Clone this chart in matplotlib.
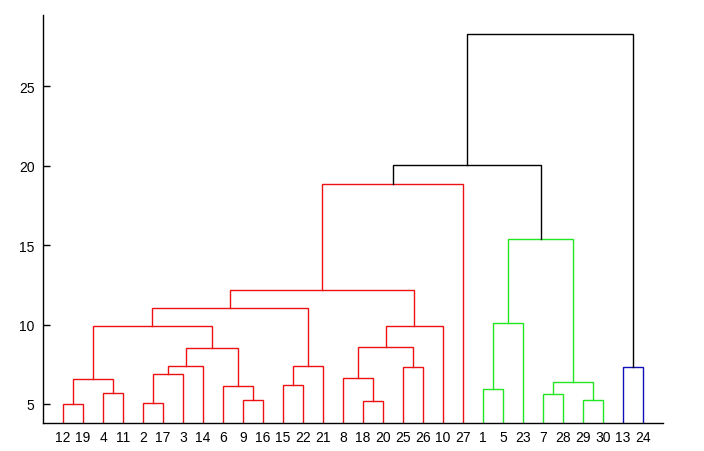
import matplotlib
matplotlib.use("Agg")
import matplotlib.pyplot as plt

# leaf order along the x axis
leaf_order = [12, 19, 4, 11, 2, 17, 3, 14, 6, 9, 16, 15, 22, 21, 8, 18, 20,
              25, 26, 10, 27, 1, 5, 23, 7, 28, 29, 30, 13, 24]

# merges (MATLAB linkage style): new cluster ids start at 31
merge_a = [12, 2, 18, 9, 29, 7, 4, 1, 6, 15, 36, 31, 8, 32, 25,
           13, 44, 40, 47, 43, 42, 50, 38, 51, 54, 53, 55, 57, 58]
merge_b = [19, 17, 20, 16, 30, 28, 11, 5, 34, 22, 35, 37, 33, 3, 26,
           24, 14, 21, 39, 45, 49, 10, 23, 48, 52, 41, 27, 56, 46]
merge_h = [4.98, 5.04, 5.17, 5.23, 5.23, 5.61, 5.67, 5.94, 6.11, 6.18,
           6.36, 6.57, 6.64, 6.87, 7.31, 7.31, 7.37, 7.37, 8.50, 8.57,
           9.89, 9.89, 10.09, 11.02, 12.21, 15.42, 18.88, 20.07, 28.31]

group_colors = ["#ee1111", "#22e622", "#1010b8"]

n = len(leaf_order)
threshold = 0.7 * max(merge_h)

xpos = {leaf: i + 1 for i, leaf in enumerate(leaf_order)}
ypos = {leaf: 0 for leaf in leaf_order}
for k, (a, b, h) in enumerate(zip(merge_a, merge_b, merge_h)):
    cid = n + 1 + k
    xpos[cid] = (xpos[a] + xpos[b]) / 2
    ypos[cid] = h

# colour groups: clusters under the threshold, named in leaf order
members = {leaf: [leaf] for leaf in leaf_order}
for k, (a, b) in enumerate(zip(merge_a, merge_b)):
    members[n + 1 + k] = members[a] + members[b]
roots = []
for k, (a, b, h) in enumerate(zip(merge_a, merge_b, merge_h)):
    if h >= threshold:
        for c in (a, b):
            if c > n and ypos[c] < threshold:
                roots.append(c)
roots.sort(key=lambda c: min(leaf_order.index(m) for m in members[c]))
clus_color = {}
for i, r in enumerate(roots):
    for k in range(len(merge_h)):
        cid = n + 1 + k
        if set(members[cid]) <= set(members[r]):
            clus_color[cid] = group_colors[i % len(group_colors)]

fig = plt.figure(figsize=(7.04, 4.52), dpi=100)
ax = fig.add_axes([0.0611, 0.0619, 0.8807, 0.9027])

for k, (a, b, h) in enumerate(zip(merge_a, merge_b, merge_h)):
    cid = n + 1 + k
    col = clus_color.get(cid, "black")
    ax.plot([xpos[a], xpos[a], xpos[b], xpos[b]],
            [ypos[a], h, h, ypos[b]], color=col, lw=1.0,
            solid_joinstyle="miter")

ax.set_xlim(0, n + 1)
ax.set_ylim(3.8, 29.5)
ax.set_xticks(range(1, n + 1))
ax.set_xticklabels([str(l) for l in leaf_order])
ax.set_yticks([5, 10, 15, 20, 25])
ax.spines["top"].set_visible(False)
ax.spines["right"].set_visible(False)
for s in ("left", "bottom"):
    ax.spines[s].set_linewidth(1.0)
ax.tick_params(axis="y", direction="in", length=5, width=1, pad=6,
               labelsize=10)
ax.tick_params(axis="x", length=0, pad=5, labelsize=10)
for lab in ax.get_xticklabels() + ax.get_yticklabels():
    lab.set_fontfamily("Liberation Sans")

fig.savefig("out.png", dpi=100)
